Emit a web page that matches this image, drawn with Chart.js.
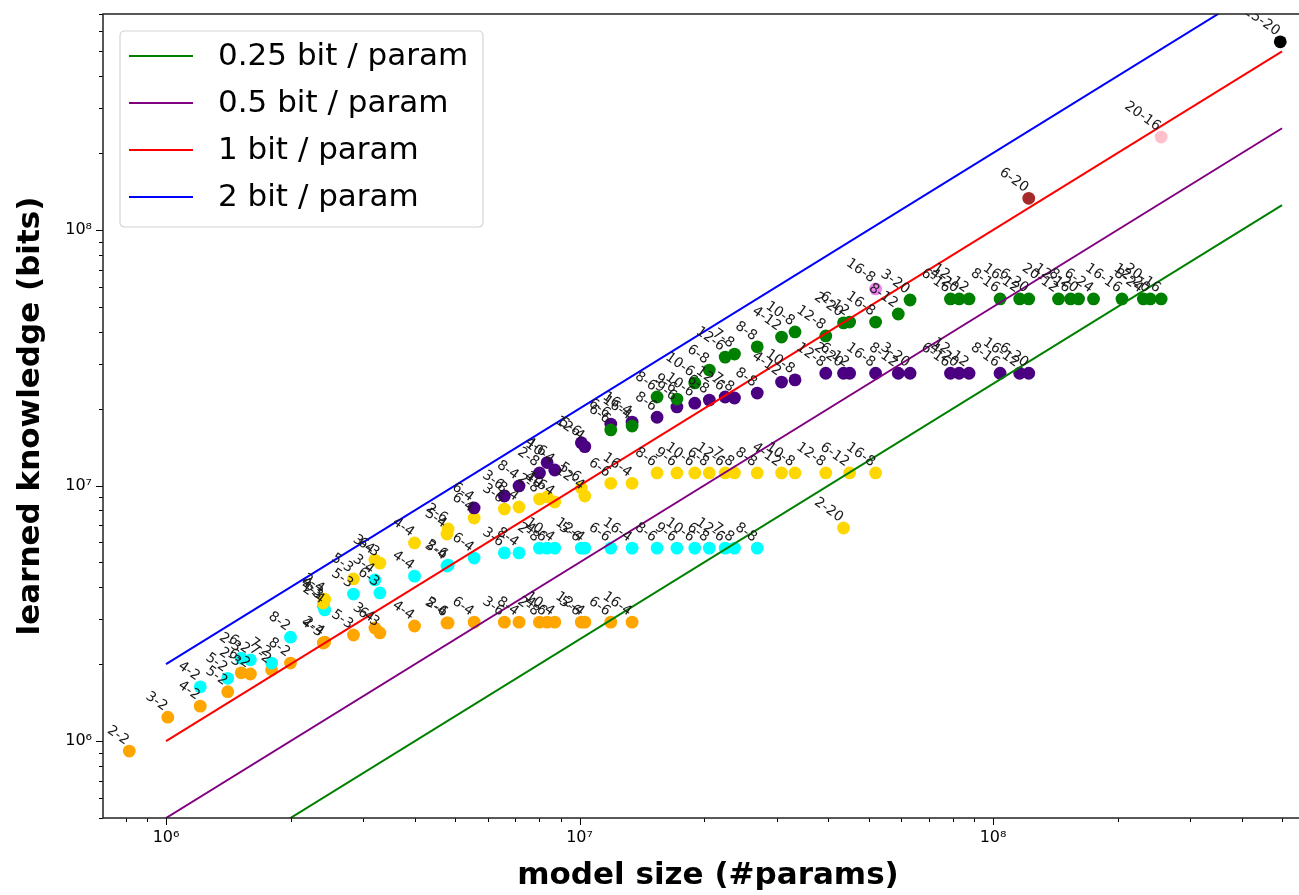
<!DOCTYPE html>
<html>
<head>
<meta charset="utf-8">
<script src="https://cdn.jsdelivr.net/npm/chart.js@4.4.1/dist/chart.umd.min.js"></script>
<style>
html,body{margin:0;padding:0;background:#fff;overflow:hidden;}
canvas{display:block;}
</style>
</head>
<body>
<canvas id="c" width="1299" height="895"></canvas>
<script>
// ---- model configurations (layers-heads) and their sizes (#params) ----
const modelNames = ['2-2','3-2','4-2','5-2','2-3','6-2','7-2','8-2','4-3','2-4','5-3','3-4','6-3','4-4','5-4','2-6',
  '6-4','3-6','8-4','2-8','4-6','10-4','5-6','12-4','6-6','16-4','8-6','9-6','10-6','6-8','12-6','7-8','8-8',
  '4-12','10-8','12-8','2-20','6-12','16-8','8-12','3-20','6-16','4-20','12-12','8-16','16-12','6-20',
  '20-12','12-16','8-20','6-24','16-16','8-24','12-20','20-16','25-20'];
const modelParams = [8.15e5,1.01e6,1.21e6,1.41e6,1.52e6,1.60e6,1.80e6,2.00e6,2.40e6,2.42e6,2.84e6,3.20e6,3.29e6,3.99e6,4.78e6,4.81e6,
  5.56e6,6.58e6,7.14e6,8.00e6,8.35e6,8.71e6,1.01e7,1.03e7,1.19e7,1.34e7,1.54e7,1.72e7,1.90e7,2.06e7,2.25e7,2.37e7,2.69e7,
  3.08e7,3.32e7,3.94e7,4.35e7,4.50e7,5.20e7,5.90e7,6.30e7,7.89e7,8.28e7,8.75e7,1.04e8,1.16e8,1.22e8,
  1.44e8,1.54e8,1.61e8,1.75e8,2.05e8,2.31e8,2.40e8,2.55e8,4.95e8];

// ---- series: learned knowledge (bits) ----
const orangeModels = ['2-2','3-2','4-2','5-2','2-3','6-2','7-2','8-2','4-3','2-4','5-3','3-4','6-3','4-4','5-4','2-6',
  '6-4','3-6','8-4','2-8','4-6','10-4','5-6','12-4','6-6','16-4'];
const orangeBits = [9.14e5,1.24e6,1.37e6,1.56e6,1.85e6,1.83e6,1.90e6,2.02e6,2.42e6,2.44e6,2.60e6,2.77e6,2.65e6,2.82e6,2.90e6,2.90e6,
  2.92e6,2.92e6,2.92e6,2.92e6,2.92e6,2.92e6,2.92e6,2.92e6,2.92e6,2.92e6];

const cyanModels = ['4-2','5-2','2-3','6-2','7-2','8-2','4-3','2-4','5-3','3-4','6-3','4-4','5-4','2-6',
  '6-4','3-6','8-4','2-8','4-6','10-4','5-6','12-4','6-6','16-4','8-6','9-6','10-6','6-8','12-6','7-8','8-8'];
const cyanBits = [1.63e6,1.76e6,2.11e6,2.08e6,2.02e6,2.55e6,3.38e6,3.26e6,3.76e6,4.27e6,3.80e6,4.42e6,4.84e6,4.88e6,
  5.20e6,5.45e6,5.45e6,5.69e6,5.69e6,5.69e6,5.69e6,5.69e6,5.69e6,5.69e6,5.69e6,5.69e6,5.69e6,5.69e6,5.69e6,5.69e6,5.69e6];

const goldModels = ['4-3','2-4','5-3','3-4','6-3','4-4','5-4','2-6','6-4','3-6','8-4','2-8','4-6','10-4','5-6','12-4','6-6','16-4',
  '8-6','9-6','10-6','6-8','12-6','7-8','8-8','4-12','10-8','12-8','6-12','16-8','2-20'];
const goldBits = [3.47e6,3.59e6,4.31e6,5.11e6,4.97e6,5.96e6,6.46e6,6.76e6,7.46e6,8.09e6,8.24e6,8.85e6,9.02e6,8.62e6,9.78e6,9.10e6,1.02e7,1.02e7,
  1.12e7,1.12e7,1.12e7,1.12e7,1.12e7,1.12e7,1.12e7,1.12e7,1.12e7,1.12e7,1.12e7,1.12e7,6.82e6];

const indigoModels = ['6-4','3-6','8-4','2-8','4-6','10-4','5-6','12-4','6-6','16-4','8-6','9-6','10-6','6-8','12-6','7-8','8-8',
  '4-12','10-8','12-8','2-20','6-12','16-8','8-12','3-20','6-16','4-20','12-12','8-16','16-12','6-20'];
const indigoBits = [8.17e6,9.10e6,9.96e6,1.12e7,1.23e7,1.15e7,1.47e7,1.42e7,1.74e7,1.77e7,1.85e7,2.03e7,2.10e7,2.16e7,2.22e7,2.20e7,2.30e7,
  2.54e7,2.59e7,2.75e7,2.75e7,2.75e7,2.75e7,2.75e7,2.75e7,2.75e7,2.75e7,2.75e7,2.75e7,2.75e7,2.75e7];

const greenModels = ['6-6','16-4','8-6','9-6','10-6','6-8','12-6','7-8','8-8','4-12','10-8','12-8','2-20','6-12','16-8','8-12','3-20',
  '6-16','4-20','12-12','8-16','16-12','6-20','20-12','12-16','8-20','6-24','16-16','8-24','12-20','20-16'];
const greenBits = [1.65e7,1.71e7,2.22e7,2.18e7,2.52e7,2.83e7,3.18e7,3.27e7,3.49e7,3.81e7,3.99e7,3.85e7,4.33e7,4.36e7,4.36e7,4.69e7,5.32e7,
  5.37e7,5.37e7,5.37e7,5.37e7,5.37e7,5.37e7,5.37e7,5.37e7,5.37e7,5.37e7,5.37e7,5.37e7,5.37e7,5.37e7];

const violetModels = ['16-8'];  const violetBits = [5.88e7];
const brownModels  = ['6-20'];  const brownBits  = [1.33e8];
const pinkModels   = ['20-16']; const pinkBits   = [2.31e8];
const blackModels  = ['25-20']; const blackBits  = [5.45e8];

// ---- reference lines (bits per parameter) ----
const refX   = [1e6, 5e8];
const ref025 = [2.5e5, 1.25e8];
const ref05  = [5e5, 2.5e8];
const ref1   = [1e6, 5e8];
const ref2   = [2e6, 1e9];
const refLabels = ['0.25 bit / param', '0.5 bit / param', '1 bit / param', '2 bit / param'];

// ---- axes (the plot area runs past the right edge of the picture) ----
const xMin = 7.04e5, xMax = 5.94e8, yMin = 5.0e5, yMax = 7.0e8;
const xTitle = 'model size (#params)';
const yTitle = 'learned knowledge (bits)';
const plotBox = {left: 103, top: 14, right: 1313, bottom: 818};

// ---- build ----
const paramOf = {};
modelNames.forEach((n, i) => { paramOf[n] = modelParams[i]; });
const pts = (names, bits) => names.map((n, i) => ({x: paramOf[n], y: bits[i]}));
const line = ys => refX.map((x, i) => ({x, y: ys[i]}));

function scatterDs(label, names, bits, color, order) {
  return {type: 'scatter', label, data: pts(names, bits), texts: names, backgroundColor: color,
    borderWidth: 0, pointRadius: 6.4, pointHoverRadius: 6.4, order};
}
function lineDs(label, ys, color) {
  return {type: 'line', label, data: line(ys), borderColor: color, borderWidth: 2, pointRadius: 0,
    fill: false, tension: 0, order: 0, isRef: true};
}

const sup = {'0':'⁰','1':'¹','2':'²','3':'³','4':'⁴','5':'⁵','6':'⁶','7':'⁷','8':'⁸','9':'⁹'};
function isPow10(v) { const l = Math.log10(v); return Math.abs(l - Math.round(l)) < 1e-9; }
function logTicks(min, max) {
  const t = [];
  for (let e = Math.floor(Math.log10(min)); e <= Math.ceil(Math.log10(max)); e++) {
    for (let m = 1; m <= 9; m++) {
      const v = m * Math.pow(10, e);
      if (v >= min && v <= max) t.push({value: v});
    }
  }
  return t;
}
const tickCb = v => isPow10(v) ? '10' + String(Math.round(Math.log10(v))).split('').map(c => sup[c]).join('') : '';

// pin the plot area (it extends beyond the right edge of the canvas, like the cropped original)
const pinArea = {
  id: 'pinArea',
  afterLayout(chart) {
    const a = chart.chartArea, b = plotBox;
    a.left = b.left; a.top = b.top; a.right = b.right; a.bottom = b.bottom;
    a.width = b.right - b.left; a.height = b.bottom - b.top;
    const x = chart.scales.x, y = chart.scales.y;
    x.left = b.left; x.right = b.right; x.width = b.right - b.left; x.top = b.bottom; x.bottom = chart.height; x.height = chart.height - b.bottom;
    y.top = b.top; y.bottom = b.bottom; y.height = b.bottom - b.top; y.left = 0; y.right = b.left; y.width = b.left;
    x.configure(); y.configure();
  }
};

const pointLabels = {
  id: 'pointLabels',
  afterDatasetsDraw(chart) {
    const {ctx, chartArea: a} = chart;
    ctx.save();
    ctx.beginPath(); ctx.rect(a.left, a.top, a.right - a.left, a.bottom - a.top); ctx.clip();
    ctx.font = '14px "DejaVu Sans"';
    ctx.fillStyle = '#1a1a1a';
    ctx.textAlign = 'right';
    ctx.textBaseline = 'alphabetic';
    chart.data.datasets.forEach((ds, i) => {
      if (!ds.texts) return;
      chart.getDatasetMeta(i).data.forEach((el, j) => {
        ctx.save();
        ctx.translate(el.x - 4, el.y - 6);
        ctx.rotate(35 * Math.PI / 180);
        ctx.fillText(ds.texts[j], 0, 0);
        ctx.restore();
      });
    });
    ctx.restore();
  }
};

const frame = {
  id: 'frame',
  afterDraw(chart) {
    const {ctx, chartArea: a, scales} = chart;
    ctx.save();
    // ticks
    ctx.strokeStyle = '#000'; ctx.lineWidth = 1;
    scales.x.ticks.forEach(t => {
      const px = Math.round(scales.x.getPixelForValue(t.value)) + 0.5;
      const len = isPow10(t.value) ? 7 : 4;
      ctx.beginPath(); ctx.moveTo(px, a.bottom); ctx.lineTo(px, a.bottom + len); ctx.stroke();
    });
    scales.y.ticks.forEach(t => {
      const py = Math.round(scales.y.getPixelForValue(t.value)) + 0.5;
      const len = isPow10(t.value) ? 7 : 4;
      ctx.beginPath(); ctx.moveTo(a.left, py); ctx.lineTo(a.left - len, py); ctx.stroke();
    });
    // legend
    const refs = chart.data.datasets.filter(d => d.isRef);
    const bx = 120, by = 31, bw = 363, bh = 196, r = 5;
    ctx.beginPath();
    ctx.moveTo(bx + r, by); ctx.lineTo(bx + bw - r, by); ctx.quadraticCurveTo(bx + bw, by, bx + bw, by + r);
    ctx.lineTo(bx + bw, by + bh - r); ctx.quadraticCurveTo(bx + bw, by + bh, bx + bw - r, by + bh);
    ctx.lineTo(bx + r, by + bh); ctx.quadraticCurveTo(bx, by + bh, bx, by + bh - r);
    ctx.lineTo(bx, by + r); ctx.quadraticCurveTo(bx, by, bx + r, by); ctx.closePath();
    ctx.fillStyle = 'rgba(255,255,255,0.85)'; ctx.fill();
    ctx.strokeStyle = '#d4d4d4'; ctx.lineWidth = 1.2; ctx.stroke();
    ctx.font = '31px "DejaVu Sans"'; ctx.textAlign = 'left'; ctx.textBaseline = 'middle'; ctx.fillStyle = '#000';
    refs.forEach((d, i) => {
      const y = 56 + i * 47;
      ctx.strokeStyle = d.borderColor; ctx.lineWidth = 2;
      ctx.beginPath(); ctx.moveTo(129, y); ctx.lineTo(193, y); ctx.stroke();
      ctx.fillText(d.label, 218, y + 1);
    });
    // spines
    ctx.strokeStyle = '#222'; ctx.lineWidth = 1.5;
    ctx.strokeRect(a.left, a.top, a.right - a.left, a.bottom - a.top);
    ctx.restore();
  }
};

new Chart(document.getElementById('c'), {
  type: 'scatter',
  data: {
    datasets: [
      lineDs(refLabels[0], ref025, '#008000'),
      lineDs(refLabels[1], ref05, '#800080'),
      lineDs(refLabels[2], ref1, '#FF0000'),
      lineDs(refLabels[3], ref2, '#0000FF'),
      scatterDs('orange', orangeModels, orangeBits, '#FFA500', 9),
      scatterDs('cyan', cyanModels, cyanBits, '#00FFFF', 8),
      scatterDs('gold', goldModels, goldBits, '#FFD700', 7),
      scatterDs('indigo', indigoModels, indigoBits, '#4B0082', 6),
      scatterDs('green', greenModels, greenBits, '#008000', 5),
      scatterDs('violet', violetModels, violetBits, '#EE82EE', 4),
      scatterDs('brown', brownModels, brownBits, '#A52A2A', 3),
      scatterDs('pink', pinkModels, pinkBits, '#FFC0CB', 2),
      scatterDs('black', blackModels, blackBits, '#000000', 1)
    ]
  },
  options: {
    responsive: false,
    animation: false,
    devicePixelRatio: 1,
    layout: {padding: {top: 14, right: 0, left: 0, bottom: 0}},
    plugins: {legend: {display: false}, tooltip: {enabled: false}},
    scales: {
      x: {
        type: 'logarithmic', position: 'bottom', min: xMin, max: xMax,
        afterBuildTicks: s => { s.ticks = logTicks(s.min, s.max); },
        afterFit: s => { s.height = 77; s.paddingLeft = 0; s.paddingRight = 0; },
        grid: {display: false, drawTicks: false},
        border: {display: false},
        ticks: {autoSkip: false, maxRotation: 0, minRotation: 0, padding: 10, color: '#000',
          font: {family: 'DejaVu Sans', size: 16}, callback: tickCb},
        title: {display: true, text: xTitle, color: '#000',
          font: {family: 'DejaVu Sans', weight: 'bold', size: 31}, padding: {top: 0, bottom: 0}}
      },
      y: {
        type: 'logarithmic', position: 'left', min: yMin, max: yMax,
        afterBuildTicks: s => { s.ticks = logTicks(s.min, s.max); },
        afterFit: s => { s.width = 103; s.paddingTop = 0; s.paddingBottom = 0; },
        grid: {display: false, drawTicks: false},
        border: {display: false},
        ticks: {autoSkip: false, padding: 11, color: '#000',
          font: {family: 'DejaVu Sans', size: 16}, callback: tickCb},
        title: {display: true, text: yTitle, color: '#000',
          font: {family: 'DejaVu Sans', weight: 'bold', size: 31}, padding: {top: 12, bottom: 0}}
      }
    }
  },
  plugins: [pinArea, pointLabels, frame]
});
</script>
</body>
</html>
